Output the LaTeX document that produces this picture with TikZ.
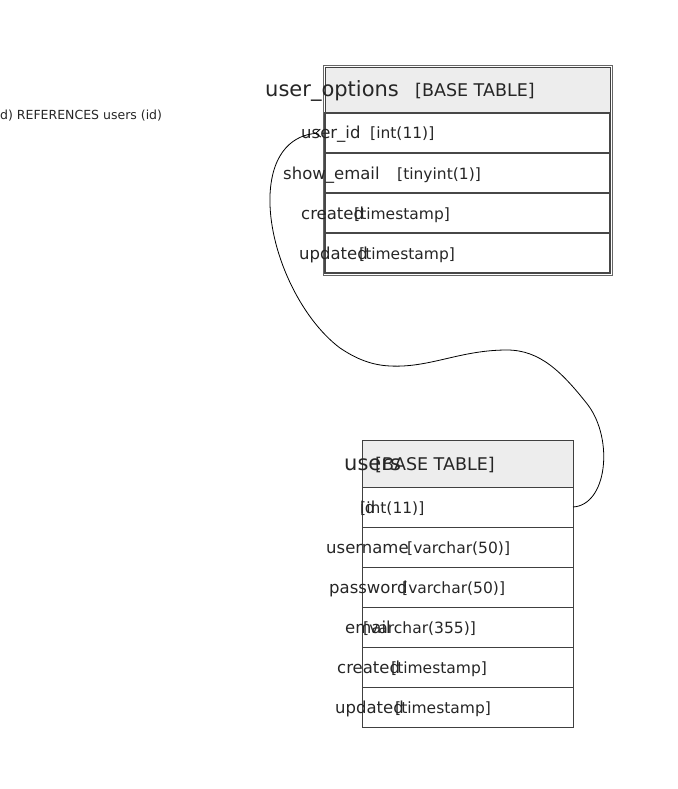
\documentclass[tikz,border=0pt]{standalone}
\usepackage{fontspec}
\setmainfont{DejaVu Sans}
\usetikzlibrary{arrows.meta}
\begin{document}
\begin{tikzpicture}
		[x=1pt,y=-1pt,
		headbox/.style={rectangle,draw=black!75,fill=black!7,minimum width=#1,minimum height=46pt,inner sep=0pt,outer sep=0pt},
		rowbox/.style={rectangle,draw=black!75,minimum width=#1,minimum height=40pt,inner sep=0pt,outer sep=0pt},
		tblname/.style={anchor=base west,inner sep=0pt,text=black!85,font=\fontsize{21}{21}\selectfont},
		tbltag/.style={anchor=base west,inner sep=0pt,text=black!85,font=\fontsize{17.5}{17.5}\selectfont},
		colname/.style={anchor=base west,inner sep=0pt,text=black!85,font=\fontsize{16.5}{16.5}\selectfont},
		coltype/.style={anchor=base west,inner sep=0pt,text=black!85,font=\fontsize{15.5}{15.5}\selectfont},]
		\useasboundingbox (0,0) rectangle (677,789);
		% user_options
		\node[headbox=285pt,name=uo-head,line width=0.9pt] at (467.5,90) {};
		\foreach \i/\y in {1/133,2/173,3/213,4/253}
		{
			\node[rowbox=285pt,name=uo-r\i,draw=black!72,line width=1.2pt] at (467.5,\y) {};
		}
		\draw[black!60,line width=0.9pt] ([xshift=-2pt,yshift=2pt]uo-head.north west) rectangle ([xshift=2pt,yshift=-2pt]uo-r4.south east);
		\node[tblname,name=uo-t] at (265,97) {user\_options};
		\node[tbltag,name=uo-g] at (415,97) {[BASE TABLE]};
		\node[colname,name=uo-c1] at (301,139) {user\_id};
		\node[coltype,name=uo-y1] at (370,139) {[int(11)]};
		\node[colname,name=uo-c2] at (283,179) {show\_email};
		\node[coltype,name=uo-y2] at (397,179) {[tinyint(1)]};
		\node[colname,name=uo-c3] at (301,219) {created};
		\node[coltype,name=uo-y3] at (354,219) {[timestamp]};
		\node[colname,name=uo-c4] at (299,259) {updated};
		\node[coltype,name=uo-y4] at (359,259) {[timestamp]};
		% users
		\node[headbox=211pt,name=us-head,minimum height=47pt,line width=0.7pt] at (467.5,463.5) {};
		\foreach \i/\y in {1/507,2/547,3/587,4/627,5/667,6/707}
		{
			\node[rowbox=211pt,name=us-r\i,line width=0.7pt] at (467.5,\y) {};
		}
		\node[tblname,name=us-t] at (344,470.5) {users};
		\node[tbltag,name=us-g] at (375,470.5) {[BASE TABLE]};
		\foreach \i/\x/\n/\tx/\t in {1/360/id/360/{[int(11)]},2/326/username/407/{[varchar(50)]},3/329/password/402/{[varchar(50)]},4/345/email/363/{[varchar(355)]},5/337/created/391/{[timestamp]},6/335/updated/395/{[timestamp]}}
		{
			\node[colname,name=us-c\i] at (\x,473+40*\i) {\n};
			\node[coltype,name=us-y\i] at (\tx,473+40*\i) {\t};
		}
		% foreign key
		\node[anchor=base west,inner sep=0pt,text=black!85,font=\fontsize{12.5}{12.5}\selectfont,name=fk] at (0,120) {d) REFERENCES users (id)};
		\coordinate (uo-tip) at (321,133);
		\draw[black,line width=0.8pt,-{Straight Barb[reversed,length=5pt,width=8pt]}] (us-r1.east)
			.. controls (607,505) and (614,440) .. (588,405)
			.. controls (562,372) and (540,350) .. (507,350)
			.. controls (460,350) and (430,368) .. (390,366)
			.. controls (368,365) and (352,356) .. (340,348)
			.. controls (300,318) and (268,250) .. (270,195)
			.. controls (272,150) and (295,135) .. (uo-tip);
\end{tikzpicture}
\end{document}
